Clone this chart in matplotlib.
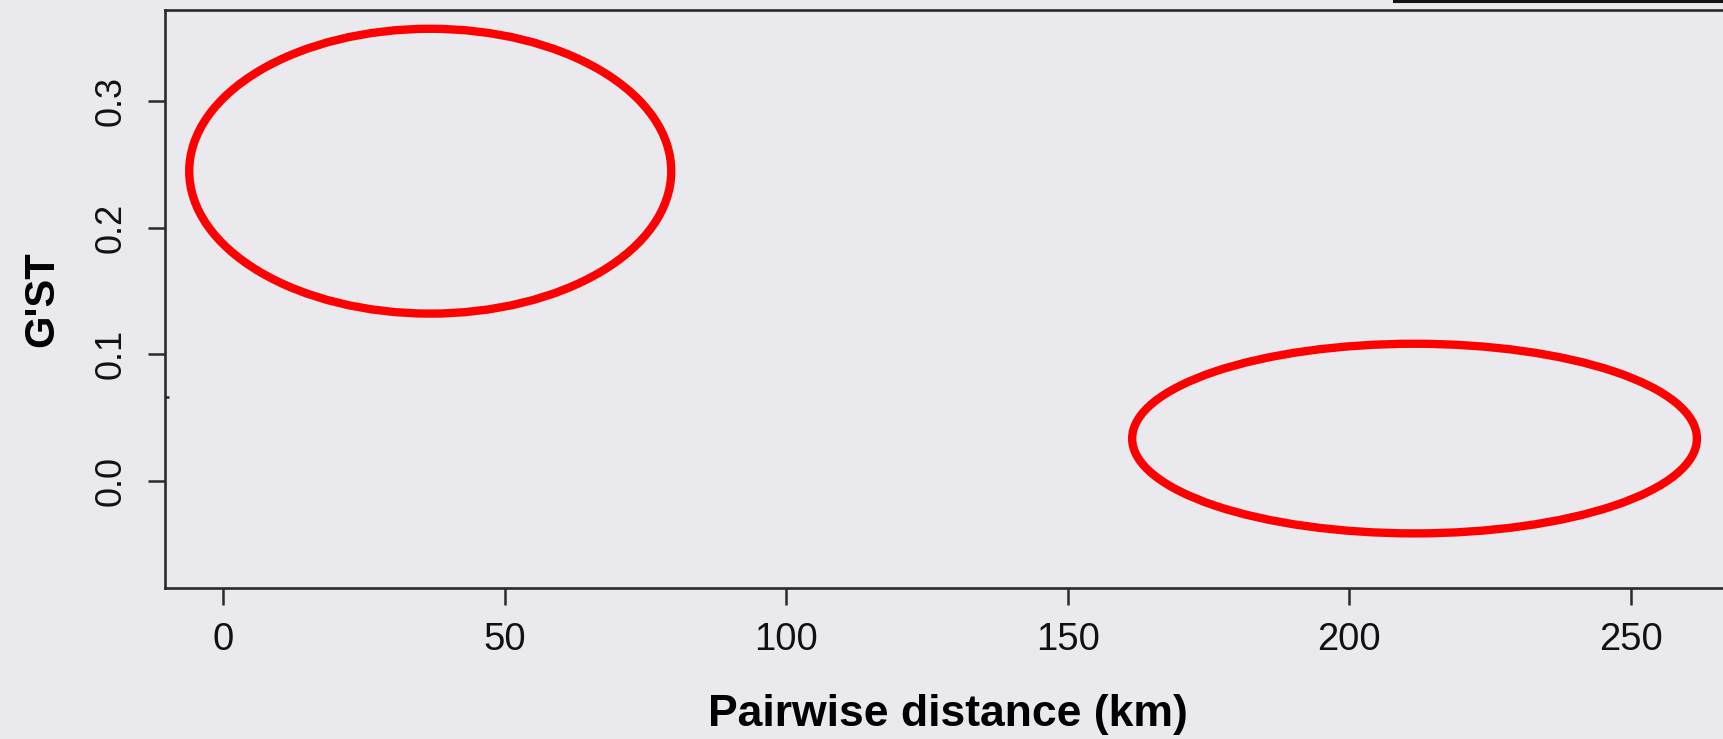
import matplotlib
matplotlib.use("Agg")
import matplotlib.pyplot as plt
from matplotlib.patches import Ellipse
from matplotlib.lines import Line2D

# Data: highlighted regions (ellipses) on a G'ST vs distance plot
ellipse_centers_x = [36.8, 211.6]      # km
ellipse_centers_y = [0.2447, 0.0332]   # G'ST
ellipse_widths = [85.6, 100.3]         # km
ellipse_heights = [0.2253, 0.150]      # G'ST

x_ticks = [0, 50, 100, 150, 200, 250]
y_ticks = [0.0, 0.1, 0.2, 0.3]
y_tick_labels = ["0.0", "0.1", "0.2", "0.3"]
xlim = (-10.30, 267.8)
ylim = (-0.085, 0.3722)

bg = "#E9E9EE"
W, H = 1724, 739
fig = plt.figure(figsize=(W / 100, H / 100), dpi=100, facecolor=bg)
plt.rcParams['font.family'] = ['Liberation Sans', 'DejaVu Sans']

left_px, right_px, top_px, bottom_px = 165, 1731, 10, 588
ax = fig.add_axes([left_px / W, 1 - bottom_px / H,
                   (right_px - left_px) / W, (bottom_px - top_px) / H])
ax.set_facecolor(bg)
ax.set_xlim(*xlim)
ax.set_ylim(*ylim)

for s in ax.spines.values():
    s.set_color("#2a2a2a")
    s.set_linewidth(1.9)

for cx, cy, w, h in zip(ellipse_centers_x, ellipse_centers_y, ellipse_widths, ellipse_heights):
    ax.add_patch(Ellipse((cx, cy), w, h, fill=False, edgecolor="#FF0000", linewidth=6.0))

ax.set_xticks(x_ticks)
ax.set_xticklabels([str(v) for v in x_ticks], fontsize=27.5)
ax.set_yticks(y_ticks)
ax.set_yticklabels(y_tick_labels, rotation=90, va="center", fontsize=26)
ax.set_yticks([0.066], minor=True)
ax.tick_params(axis="y", which="minor", direction="in", length=3, width=1.8, color="#2a2a2a")
ax.tick_params(axis="both", which="major", direction="out", length=12.5, width=1.8,
               color="#2a2a2a", labelcolor="#111111")
ax.tick_params(axis="x", which="major", pad=12)
ax.tick_params(axis="y", which="major", pad=14)

ax.set_xlabel("Pairwise distance (km)", fontsize=32, fontweight="bold", labelpad=26)
ax.set_ylabel("G'ST", fontsize=30, fontweight="bold", labelpad=22)

# cropped dark line at the top right edge of the image
fig.add_artist(Line2D([1394 / W, 1.0], [1 - 1 / H, 1 - 1 / H], color="#111111",
                      linewidth=2.2, transform=fig.transFigure))

fig.savefig("out.png", dpi=100, facecolor=bg)
